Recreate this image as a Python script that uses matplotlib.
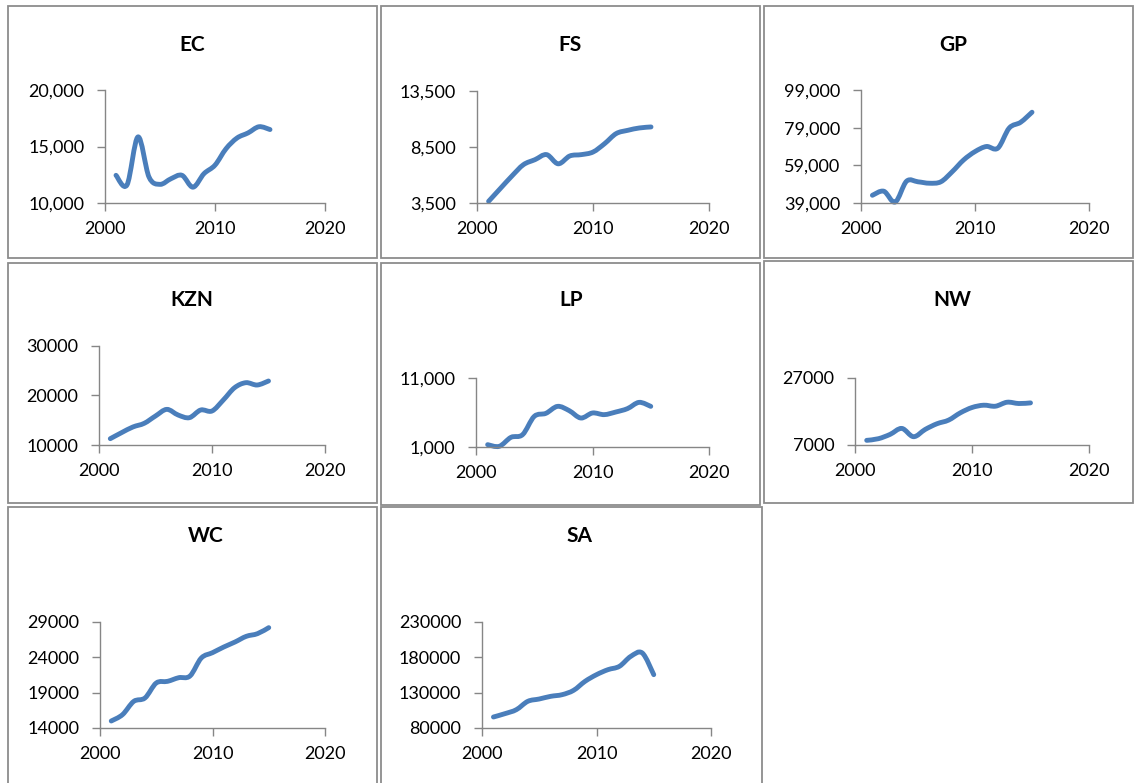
import matplotlib
matplotlib.use("Agg")
import matplotlib.pyplot as plt
from matplotlib.path import Path
from matplotlib.patches import PathPatch, Rectangle
from matplotlib.ticker import FuncFormatter

plt.rcParams['font.family'] = ['Lato', 'DejaVu Sans']

years = list(range(2001, 2016))

ec = [12450, 11600, 15850, 12300, 11650, 12150, 12450, 11400, 12600, 13350,
      14800, 15750, 16200, 16750, 16500]
fs = [3650, 4780, 5900, 6920, 7370, 7820, 7000, 7700, 7820, 8050,
      8800, 9700, 9990, 10200, 10290]
gp = [43100, 45250, 39500, 50600, 50250, 49500, 50250, 55600, 61850, 66300,
      69000, 68100, 78800, 81850, 87200]
kzn = [11280, 12500, 13640, 14380, 15860, 17200, 16060, 15520, 17070, 16870,
       19090, 21580, 22590, 22120, 22930]
lp = [1340, 1100, 2400, 2790, 5440, 5880, 6890, 6270, 5200, 5930,
      5690, 6070, 6560, 7470, 6890]
nw = [8390, 8880, 10170, 11950, 9480, 11650, 13340, 14430, 16600, 18190,
      18880, 18580, 19770, 19380, 19570]
wc = [14990, 15890, 17770, 18250, 20370, 20600, 21120, 21360, 23900, 24660,
      25460, 26170, 26970, 27350, 28200]
sa = [95570, 100280, 105940, 117740, 121040, 124810, 127170, 133300, 146040, 155470,
      162550, 167260, 181420, 186130, 155470]

x_ticks = [2000, 2010, 2020]

# name, series, y ticks, thousands separator
panels = [
    ("EC", ec, [10000, 15000, 20000], True),
    ("FS", fs, [3500, 8500, 13500], True),
    ("GP", gp, [39000, 59000, 79000, 99000], True),
    ("KZN", kzn, [10000, 20000, 30000], False),
    ("LP", lp, [1000, 11000], True),
    ("NW", nw, [7000, 27000], False),
    ("WC", wc, [14000, 19000, 24000, 29000], False),
    ("SA", sa, [80000, 130000, 180000, 230000], False),
]

W, H = 1134, 783
# frame box (x0, y0, x1, y1), plot area (x0, y0, x1, y1), title centre (x, y) in pixels
layout = [
    ((8, 6, 377, 258), (105, 90, 325, 203), (192, 45)),
    ((381, 6, 760, 258), (477, 91, 709, 203), (570, 45)),
    ((764, 6, 1133, 258), (861, 90, 1089, 203), (953, 45)),
    ((8, 263, 377, 503), (99, 346, 325, 445), (192, 300)),
    ((381, 263, 760, 505), (476, 378, 709, 447), (571, 300)),
    ((764, 261, 1133, 503), (855, 378, 1089, 445), (952, 300)),
    ((8, 507, 377, 800), (100, 622, 325, 728), (206, 536)),
    ((381, 507, 762, 800), (482, 622, 711, 728), (579, 536)),
]

LINE = "#4A7EBB"
AXIS = "#868686"


def smooth_path(xs, ys):
    # Bezier segments through every point, Excel-style smoothing
    verts = [(xs[0], ys[0])]
    codes = [Path.MOVETO]
    n = len(xs)
    for i in range(n - 1):
        x0, y0 = xs[max(i - 1, 0)], ys[max(i - 1, 0)]
        x1, y1 = xs[i], ys[i]
        x2, y2 = xs[i + 1], ys[i + 1]
        x3, y3 = xs[min(i + 2, n - 1)], ys[min(i + 2, n - 1)]
        c1 = (x1 + (x2 - x0) / 6.0, y1 + (y2 - y0) / 6.0)
        c2 = (x2 - (x3 - x1) / 6.0, y2 - (y3 - y1) / 6.0)
        verts += [c1, c2, (x2, y2)]
        codes += [Path.CURVE4] * 3
    return Path(verts, codes)


fig = plt.figure(figsize=(W / 100, H / 100), dpi=100)

for (name, vals, yt, comma), (box, area, tpos) in zip(panels, layout):
    bx0, by0, bx1, by1 = box
    fig.patches.append(Rectangle((bx0 / W, 1 - by1 / H), (bx1 - bx0) / W, (by1 - by0) / H,
                                 transform=fig.transFigure, fill=False,
                                 edgecolor="#8c8c8c", linewidth=1.3))
    ax0, ay0, ax1, ay1 = area
    ax = fig.add_axes([ax0 / W, 1 - ay1 / H, (ax1 - ax0) / W, (ay1 - ay0) / H])
    ax.patch.set_visible(False)
    ax.set_xlim(2000, 2020)
    ax.set_ylim(yt[0], yt[-1])
    ax.set_xticks(x_ticks)
    ax.set_yticks(yt)
    if comma:
        ax.yaxis.set_major_formatter(FuncFormatter(lambda v, p: f"{int(round(v)):,}"))
    else:
        ax.yaxis.set_major_formatter(FuncFormatter(lambda v, p: f"{int(round(v))}"))
    for s in ("top", "right"):
        ax.spines[s].set_visible(False)
    for s in ("left", "bottom"):
        ax.spines[s].set_color(AXIS)
        ax.spines[s].set_linewidth(1.0)
    ax.tick_params(axis="both", direction="out", length=5.5, width=1.0, color=AXIS,
                   labelsize=13, labelcolor="black")
    ax.tick_params(axis="y", pad=9.5)
    ax.tick_params(axis="x", pad=7.5)
    patch = PathPatch(smooth_path(years, vals), fill=False, edgecolor=LINE,
                      linewidth=3.5, capstyle="round", joinstyle="round",
                      transform=ax.transData, clip_on=False)
    ax.add_patch(patch)
    fig.text(tpos[0] / W, 1 - tpos[1] / H, name, ha="center", va="center",
             fontsize=15, fontweight="bold")

fig.savefig("out.png", dpi=100, facecolor="white")
